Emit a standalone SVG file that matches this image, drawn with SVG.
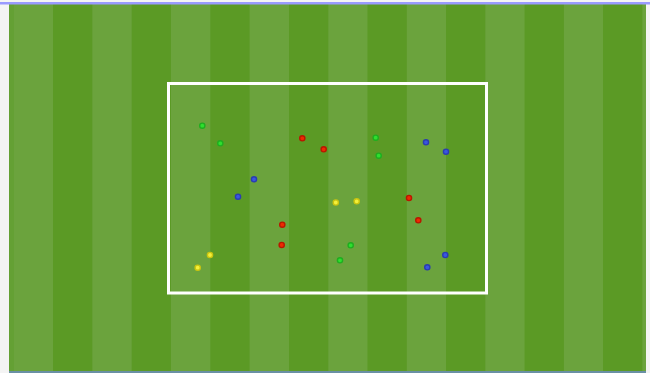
<svg xmlns="http://www.w3.org/2000/svg" width="650" height="373" viewBox="0 0 650 373">
<style>
.lt{fill:#6ba33d}
.dk{fill:#5b9a25}
.g{fill:#2ee02e;stroke:#1fae1f;stroke-width:1.4}
.r{fill:#ee2a00;stroke:#b81800;stroke-width:1.4}
.b{fill:#3a56e0;stroke:#2a3db0;stroke-width:1.4}
.y{fill:#f4f03a;stroke:#c9c410;stroke-width:1.4}
</style>
<rect x="0" y="0" width="650" height="373" fill="#f4f4f4"/>
<g id="pitch">
<rect x="9" y="4" width="637" height="367" class="lt"/>
<rect x="9" y="4" width="5" height="367" fill="#64a034"/>
<rect x="53" y="4" width="39.3" height="367" class="dk"/>
<rect x="131.7" y="4" width="39.3" height="367" class="dk"/>
<rect x="210.3" y="4" width="39.3" height="367" class="dk"/>
<rect x="289" y="4" width="39.3" height="367" class="dk"/>
<rect x="367.5" y="4" width="39.3" height="367" class="dk"/>
<rect x="446" y="4" width="39.3" height="367" class="dk"/>
<rect x="524.6" y="4" width="39.3" height="367" class="dk"/>
<rect x="603" y="4" width="39.3" height="367" class="dk"/>
<rect x="0" y="2" width="650" height="2.5" fill="#9a9aff"/>
<rect x="9" y="371" width="637" height="2" fill="#6a90a4"/>
</g>
<g id="area">
<rect x="168.5" y="83.5" width="318" height="209.5" fill="none" stroke="#ffffff" stroke-width="3"/>
</g>
<g id="players">
<circle class="g" cx="202.3" cy="125.7" r="2.6"/>
<circle class="g" cx="220.3" cy="143.3" r="2.6"/>
<circle class="g" cx="375.7" cy="137.7" r="2.6"/>
<circle class="g" cx="378.7" cy="155.7" r="2.6"/>
<circle class="g" cx="350.7" cy="245.3" r="2.6"/>
<circle class="g" cx="340" cy="260.3" r="2.6"/>
<circle class="r" cx="302.3" cy="138.3" r="2.6"/>
<circle class="r" cx="323.7" cy="149.3" r="2.6"/>
<circle class="r" cx="409" cy="198" r="2.6"/>
<circle class="r" cx="418.3" cy="220.3" r="2.6"/>
<circle class="r" cx="282.3" cy="224.7" r="2.6"/>
<circle class="r" cx="281.7" cy="245" r="2.6"/>
<circle class="b" cx="254" cy="179.3" r="2.6"/>
<circle class="b" cx="238" cy="196.7" r="2.6"/>
<circle class="b" cx="426" cy="142.3" r="2.6"/>
<circle class="b" cx="446" cy="151.7" r="2.6"/>
<circle class="b" cx="445.3" cy="255" r="2.6"/>
<circle class="b" cx="427.3" cy="267.3" r="2.6"/>
<circle class="y" cx="335.8" cy="202.5" r="2.6"/>
<circle class="y" cx="356.7" cy="201.3" r="2.6"/>
<circle class="y" cx="210" cy="255" r="2.6"/>
<circle class="y" cx="197.7" cy="267.7" r="2.6"/>
</g>
</svg>
